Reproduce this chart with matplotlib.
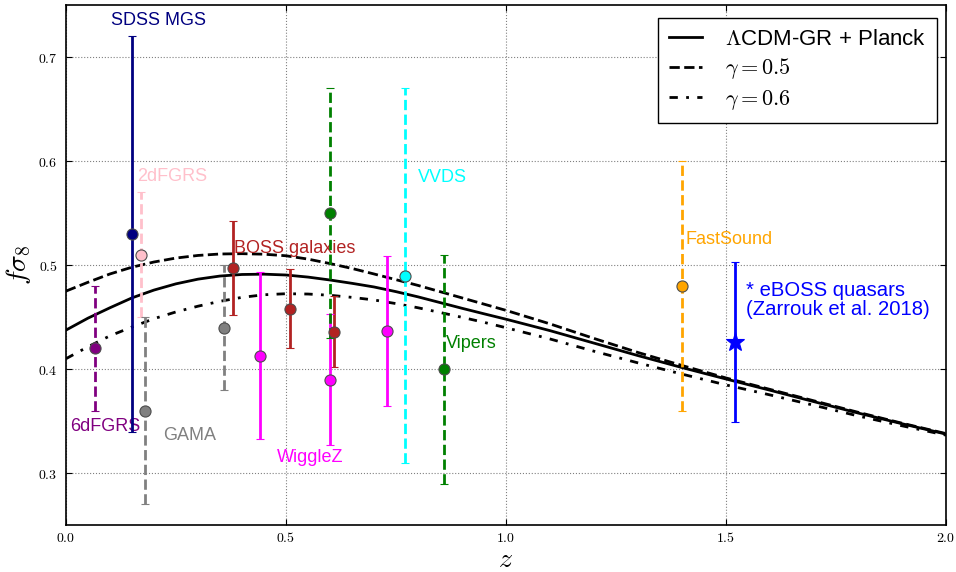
import matplotlib
matplotlib.use("Agg")
import matplotlib.pyplot as plt
from matplotlib.ticker import FuncFormatter, MultipleLocator

plt.rcParams['mathtext.fontset'] = 'cm'
plt.rcParams['font.family'] = ['Liberation Sans', 'DejaVu Sans']

# ---- model curves ----
z_curve = [0.0, 0.05, 0.1, 0.15, 0.2, 0.25, 0.3, 0.35, 0.4, 0.45, 0.5, 0.55, 0.6, 0.65,
           0.7, 0.75, 0.8, 0.85, 0.9, 0.95, 1.0, 1.1, 1.2, 1.3, 1.4, 1.5, 1.6, 1.7, 1.8,
           1.9, 2.0]
lcdm = [0.4375, 0.449, 0.459, 0.4685, 0.476, 0.482, 0.4865, 0.4895, 0.491, 0.4913, 0.4905,
        0.4885, 0.4857, 0.4825, 0.479, 0.4745, 0.4695, 0.464, 0.4585, 0.4532, 0.448,
        0.437, 0.425, 0.413, 0.4015, 0.3905, 0.3797, 0.3687, 0.3578, 0.3475, 0.3375]
gamma05 = [0.475, 0.4835, 0.4915, 0.498, 0.503, 0.5068, 0.5093, 0.5107, 0.511, 0.5105, 0.509,
           0.5058, 0.5015, 0.4968, 0.4915, 0.486, 0.4805, 0.4745, 0.4685, 0.4625, 0.4565,
           0.4435, 0.4295, 0.416, 0.4035, 0.3915, 0.3805, 0.3695, 0.3585, 0.348, 0.338]
gamma06 = [0.410, 0.4215, 0.432, 0.4405, 0.4485, 0.455, 0.4605, 0.4652, 0.469, 0.4715, 0.4725,
           0.4722, 0.471, 0.469, 0.4665, 0.463, 0.459, 0.4545, 0.4498, 0.445, 0.4398,
           0.429, 0.4172, 0.406, 0.3952, 0.3848, 0.3752, 0.3652, 0.355, 0.3455, 0.3365]

# ---- measurements ----
sdss_z, sdss_f, sdss_e = [0.15], [0.53], [0.19]
dfgrs2_z, dfgrs2_f, dfgrs2_e = [0.17], [0.51], [0.06]
dfgrs6_z, dfgrs6_f, dfgrs6_e = [0.067], [0.42], [0.06]
gama_z, gama_f, gama_e = [0.18, 0.36], [0.36, 0.44], [0.09, 0.06]
boss_z, boss_f, boss_e = [0.38, 0.51, 0.61], [0.497, 0.458, 0.436], [0.045, 0.038, 0.034]
wigglez_z, wigglez_f, wigglez_e = [0.44, 0.60, 0.73], [0.413, 0.390, 0.437], [0.080, 0.063, 0.072]
vipers_z, vipers_f, vipers_e = [0.60, 0.86], [0.55, 0.40], [0.12, 0.11]
vvds_z, vvds_f, vvds_e = [0.77], [0.49], [0.18]
fastsound_z, fastsound_f, fastsound_e = [1.40], [0.48], [0.12]
eboss_z, eboss_f, eboss_e = [1.52], [0.426], [0.077]

fig = plt.figure(figsize=(9.56, 5.72), dpi=100)
ax = fig.add_axes([0.069, 0.082, 0.9205, 0.909])

ax.plot(z_curve, lcdm, color='k', lw=2, ls='-', label=r'$\Lambda$CDM-GR + Planck', zorder=3)
ax.plot(z_curve, gamma05, color='k', lw=2, ls='--', label=r'$\gamma=0.5$', zorder=3)
ax.plot(z_curve, gamma06, color='k', lw=2, ls=(0, (3, 3, 1, 3)), label=r'$\gamma=0.6$', zorder=3)

def eb(z, f, e, color, ls='-', marker='o', ms=8, mec='0.3'):
    res = ax.errorbar(z, f, yerr=e, fmt=marker, color=color, ecolor=color, ms=ms,
                      mec=mec, mew=0.8, elinewidth=2, capsize=3, capthick=1, zorder=4)
    res[2][0].set_linestyle(ls)
    return res

eb(sdss_z, sdss_f, sdss_e, 'navy')
eb(dfgrs2_z, dfgrs2_f, dfgrs2_e, 'pink', ls='--')
eb(dfgrs6_z, dfgrs6_f, dfgrs6_e, 'purple', ls='--')
eb(gama_z, gama_f, gama_e, 'gray', ls='--')
eb(boss_z, boss_f, boss_e, 'firebrick')
eb(wigglez_z, wigglez_f, wigglez_e, 'magenta')
eb(vipers_z, vipers_f, vipers_e, 'green', ls='--')
eb(vvds_z, vvds_f, vvds_e, 'cyan', ls='--')
eb(fastsound_z, fastsound_f, fastsound_e, 'orange', ls='--')
eb(eboss_z, eboss_f, eboss_e, 'blue', marker='*', ms=14, mec='blue')

fs = 13
ax.text(0.21, 0.7356, 'SDSS MGS', color='navy', fontsize=fs, ha='center', va='center')
ax.text(0.161, 0.5856, '2dFGRS', color='pink', fontsize=fs, ha='left', va='center')
ax.text(0.382, 0.516, 'BOSS galaxies', color='firebrick', fontsize=fs, ha='left', va='center')
ax.text(0.009, 0.345, '6dFGRS', color='purple', fontsize=fs, ha='left', va='center')
ax.text(0.22, 0.3365, 'GAMA', color='gray', fontsize=fs, ha='left', va='center')
ax.text(0.48, 0.3154, 'WiggleZ', color='magenta', fontsize=fs, ha='left', va='center')
ax.text(0.80, 0.5846, 'VVDS', color='cyan', fontsize=fs, ha='left', va='center')
ax.text(0.864, 0.425, 'Vipers', color='green', fontsize=fs, ha='left', va='center')
ax.text(1.409, 0.525, 'FastSound', color='orange', fontsize=fs, ha='left', va='center')
ax.text(1.545, 0.466, '* eBOSS quasars\n(Zarrouk et al. 2018)', color='blue', fontsize=14.6,
        ha='left', va='center', linespacing=1.0)

ax.set_xlim(0, 2.0)
ax.set_ylim(0.25, 0.75)
ax.xaxis.set_major_locator(MultipleLocator(0.5))
ax.yaxis.set_major_locator(MultipleLocator(0.1))
ax.xaxis.set_major_formatter(FuncFormatter(lambda v, p: r'$%.1f$' % v))
ax.yaxis.set_major_formatter(FuncFormatter(lambda v, p: r'$%.1f$' % v))
ax.tick_params(direction='in', top=True, right=True, labelsize=10, length=4)
ax.tick_params(axis='x', pad=4)
ax.tick_params(axis='y', pad=6)
ax.grid(True, color='0.5', ls=':', lw=0.8)
for s in ax.spines.values():
    s.set_linewidth(1.2)

ax.set_xlabel(r'$z$', fontsize=20, labelpad=2)
ax.set_ylabel(r'$f\sigma_8$', fontsize=20)

leg = ax.legend(loc='upper right', fontsize=16, handlelength=1.5, handletextpad=1.0,
                fancybox=False, edgecolor='k', framealpha=1, borderpad=0.5,
                labelspacing=0.3, borderaxespad=0, bbox_to_anchor=(0.9895, 0.976))
leg.get_frame().set_linewidth(1.0)

fig.savefig('out.png', dpi=100)
